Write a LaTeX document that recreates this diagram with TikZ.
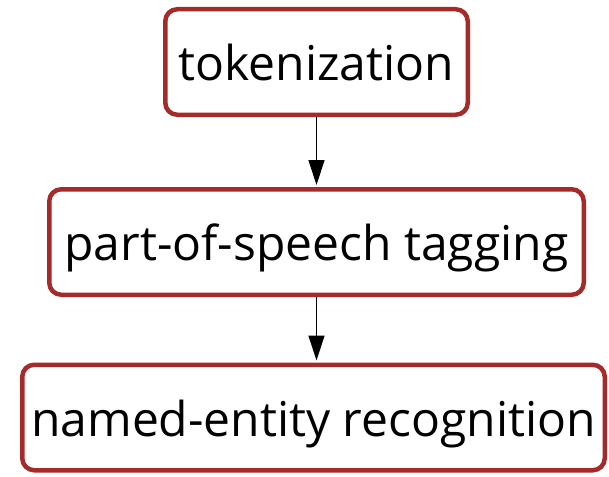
\documentclass[tikz,border=0pt]{standalone}
\usepackage{fontspec}
\setmainfont{Open Sans}
\usetikzlibrary{arrows.meta}
\definecolor{boxred}{RGB}{165,42,42}
\tikzset{
  stagebox/.style={draw=boxred, line width=4.5pt, rounded corners=12pt, fill=white,
    minimum height=105.5pt, text height=37pt, text depth=0pt, inner sep=0pt,
    font=\fontsize{48}{58}\selectfont},
  flow/.style={line width=1.3pt, -{Triangle[length=25pt,width=16pt]}, shorten >=2pt}
}
\begin{document}
\begin{tikzpicture}[x=1pt,y=-1pt]
\useasboundingbox (0,0) rectangle (609,476);
\node[stagebox, minimum width=302.5pt] (tok) at (316.5,62) {tokenization};
\node[stagebox, minimum width=534.5pt] (pos) at (316.5,242) {part-of-speech tagging};
\node[stagebox, minimum width=582.5pt] (ner) at (313.5,417.5) {named-entity recognition};
\draw[flow] (tok.south) -- (pos.north);
\draw[flow] (pos.south) -- (pos.south |- ner.north);
\end{tikzpicture}
\end{document}
